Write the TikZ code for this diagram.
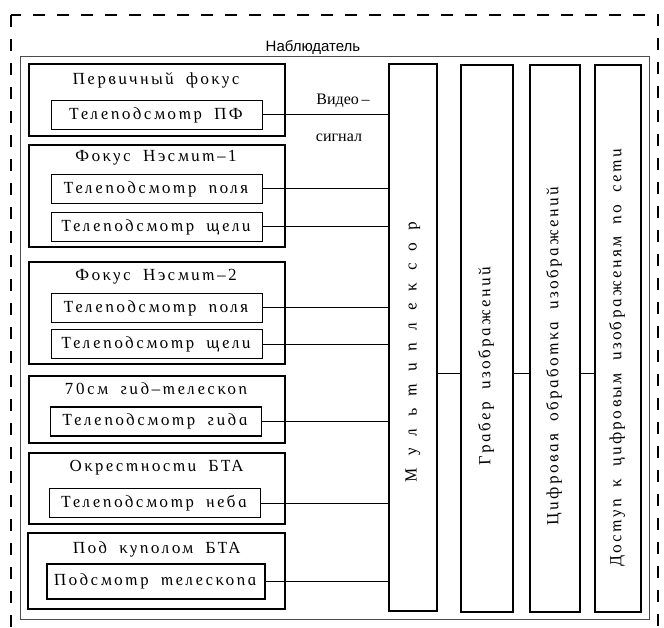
\documentclass[tikz,border=0pt]{standalone}
\usepackage{fontspec}
\setmainfont{Liberation Serif}
\newfontfamily\boxfont{Liberation Serif Italic}[FakeSlant=-0.22,LetterSpace=15,WordSpace=1.8]
\newfontfamily\headfont{Liberation Sans}

\begin{document}
\begin{tikzpicture}
		[x=1pt,y=-1pt,line cap=round,
		%Styles
		outer frame/.style={dashed,line cap=butt,line width=2.4pt,dash pattern=on 12pt off 12pt},
		main frame/.style={draw=black!70,line width=.8pt,minimum width=629pt,minimum height=563pt,inner sep=0pt},
		group box/.style={draw,line width=1.3pt,minimum width=256pt,inner sep=0pt},
		group title/.style={font=\boxfont\fontsize{17}{19}\selectfont,inner sep=0pt},
		view box/.style={draw,line width=1.3pt,minimum width=211pt,minimum height=29pt,inner sep=0pt,font=\boxfont\fontsize{17}{19}\selectfont},
		stage box/.style={draw,line width=1.3pt,minimum height=547pt,inner sep=0pt},
		stage text/.style={rotate=90,font=\boxfont\fontsize{17}{19}\selectfont,inner sep=0pt},
		link/.style={line width=1pt}
		]
		\useasboundingbox (0,0) rectangle (664,628);
		
		%Frames
		\draw[outer frame] (11,15) rectangle (658,645);
		\node[main frame] (obs) at (334.5,337.5) {};
		\node[font=\headfont\fontsize{15}{17}\selectfont,inner sep=0pt] (obstitle) at (313,47) {Наблюдатель};
		
		%Telescope groups
		\node[group box,minimum height=72pt] (g1) at (157,100) {};
		\node[group title] (t1) at (157,80) {Первичный фокус};
		\node[view box] (b1) at (157,115) {Телеподсмотр ПФ};
		
		\node[group box,minimum height=102pt] (g2) at (157,196) {};
		\node[group title] (t2) at (157,158) {Фокус Нэсмит–1};
		\node[view box] (b2a) at (157,189) {Телеподсмотр поля};
		\node[view box] (b2b) at (157,227) {Телеподсмотр щели};
		
		\node[group box,minimum height=102pt] (g3) at (157,313) {};
		\node[group title] (t3) at (157,277) {Фокус Нэсмит–2};
		\node[view box] (b3a) at (157,308) {Телеподсмотр поля};
		\node[view box] (b3b) at (157,344) {Телеподсмотр щели};
		
		\node[group box,minimum height=67pt] (g4) at (157,409.5) {};
		\node[group title] (t4) at (157,389) {70см гид–телескоп};
		\node[view box] (b4) at (156,421.5) {Телеподсмотр гида};
		
		\node[group box,minimum height=71pt] (g5) at (157,488.5) {};
		\node[group title] (t5) at (157,468) {Окрестности БТА};
		\node[view box] (b5) at (155,503) {Телеподсмотр неба};
		
		\node[group box,minimum width=257pt,minimum height=76pt] (g6) at (156.5,571) {};
		\node[group title] (t6) at (157,549) {Под куполом БТА};
		\node[view box,minimum width=218pt,minimum height=35pt] (b6) at (156,581.5) {Подсмотр телескопа};
		
		%Processing chain
		\node[stage box,minimum width=48pt] (mux) at (413,337.5) {};
		\node[stage box,minimum width=52pt] (grab) at (487,338.5) {};
		\node[stage box,minimum width=50pt] (proc) at (555,338.5) {};
		\node[stage box,minimum width=46pt] (net) at (618,338.5) {};
		\node[stage text] (muxtext) at (413,351) {М у л ь т и п л е к с о р};
		\node[stage text] (grabtext) at (486,365) {Грабер изображений};
		\node[stage text] (proctext) at (554,355) {Цифровая обработка изображений};
		\node[stage text] (nettext) at (617,357) {Доступ к цифровым изображеням по сети};
		
		%Video signal lines
		\foreach \b in {b1,b2a,b2b,b3a,b3b,b4,b5,b6}
			\draw[link] (\b.east) -- (\b.east -| mux.west);
		\node[font=\fontsize{16}{18}\selectfont,inner sep=0pt] (vid) at (343,101) {Видео\,–};
		\node[font=\fontsize{16}{18}\selectfont,inner sep=0pt] (sig) at (339,138) {сигнал};
		
		\coordinate (bus) at (0,373);
		\draw[link] (mux.east |- bus) -- (grab.west |- bus);
		\draw[link] (grab.east |- bus) -- (proc.west |- bus);
		\draw[link] (proc.east |- bus) -- (net.west |- bus);
	\end{tikzpicture}
\end{document}
